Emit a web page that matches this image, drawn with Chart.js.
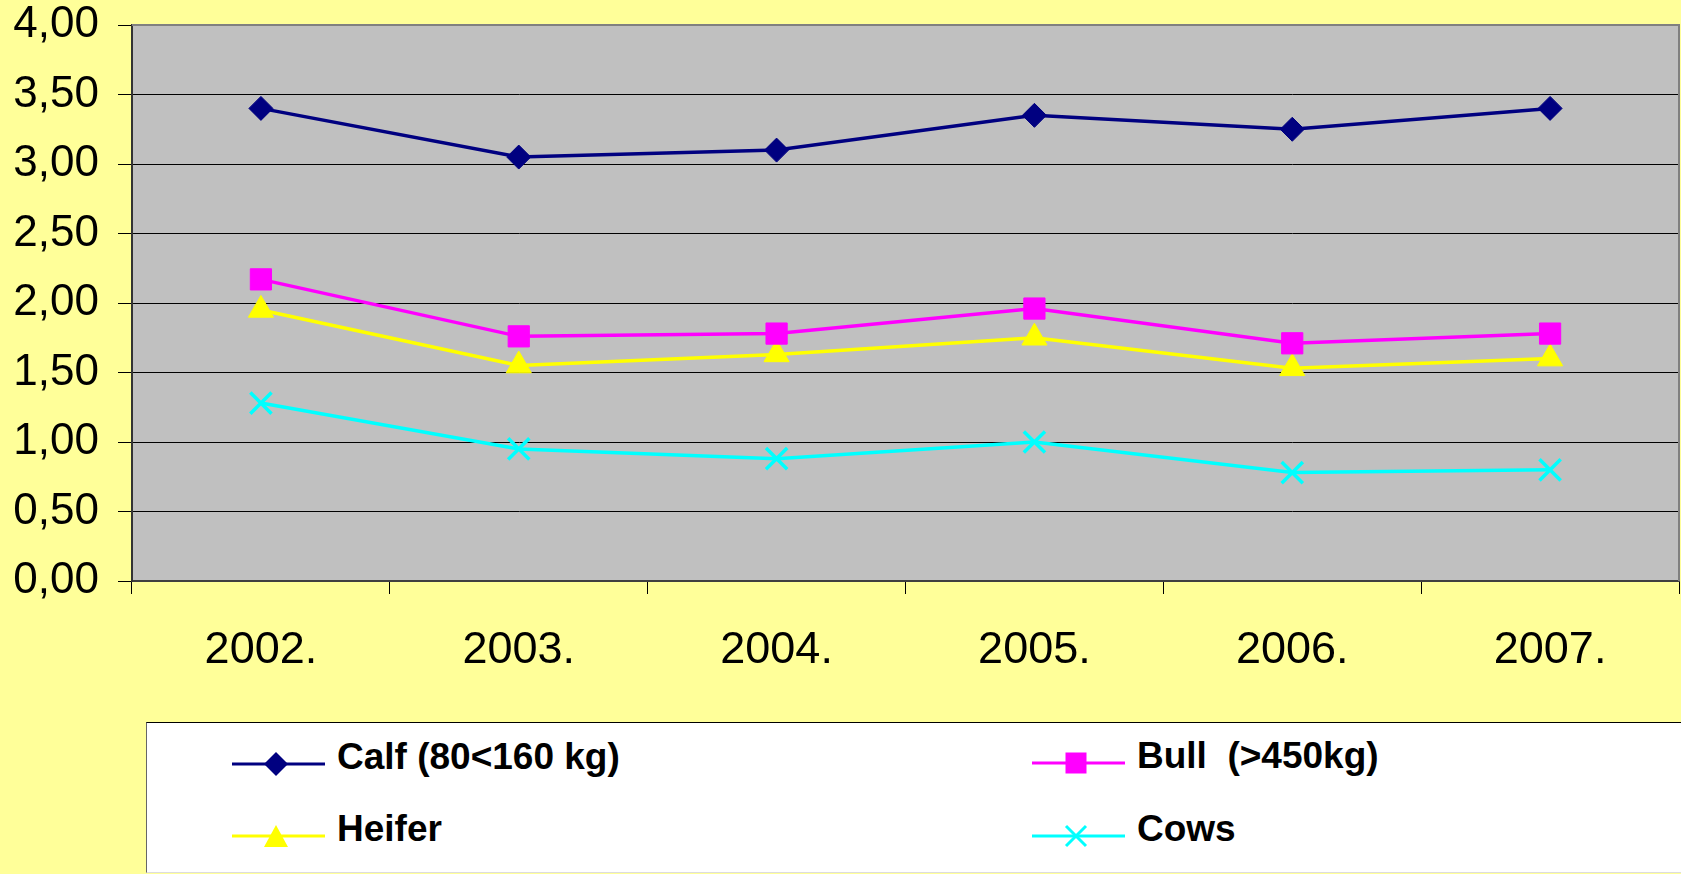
<!DOCTYPE html>
<html>
<head>
<meta charset="utf-8">
<script src="https://cdn.jsdelivr.net/npm/chart.js@4/dist/chart.umd.min.js"></script>
<style>
  html, body { margin: 0; padding: 0; background: #FFFF99; }
  #wrap { position: absolute; left: 0; top: 0; width: 1681px; height: 874px; overflow: hidden; }
  #chartBox { position: absolute; left: 0; top: 0; width: 1681px; height: 874px; }
  #legend {
    position: absolute; left: 146px; top: 722px; width: 1540px; height: 151px;
    background: #fff; border-top: 1px solid #000; border-left: 1px solid #666;
    border-bottom: 1px solid #ddd; box-sizing: border-box;
  }
  .lg-mark { position: absolute; }
  .lg-text {
    position: absolute; font-family: "Liberation Sans", Arial, sans-serif;
    font-weight: bold; font-size: 37px; line-height: 37px; color: #000; white-space: pre;
  }
</style>
</head>
<body>
<div id="wrap">
  <div id="chartBox"><canvas id="lineChart"></canvas></div>
  <div id="legend"></div>
</div>
<script>
const years = ["2002.", "2003.", "2004.", "2005.", "2006.", "2007."];
const seriesNames = ["Calf (80<160 kg)", "Bull  (>450kg)", "Heifer", "Cows"];
const calf = [3.40, 3.05, 3.10, 3.35, 3.25, 3.40];
const bull = [2.17, 1.76, 1.78, 1.96, 1.71, 1.78];
const heifer = [1.95, 1.55, 1.63, 1.75, 1.53, 1.60];
const cows = [1.28, 0.95, 0.88, 1.00, 0.78, 0.80];

const colors = ["#000080", "#FF00FF", "#FFFF00", "#00FFFF"];
const markers = ["rectRot", "rect", "triangle", "crossRot"];
const markerRadius = [12, 15, 14.5, 15];

// plot area fill and the grey frame on top / right
const plotFrame = {
  id: "plotFrame",
  beforeDraw(chart) {
    const { ctx, chartArea: a } = chart;
    ctx.save();
    ctx.fillStyle = "#C0C0C0";
    ctx.fillRect(a.left, a.top, a.right - a.left, a.bottom - a.top);
    ctx.restore();
  },
  afterDraw(chart) {
    const { ctx, chartArea: a } = chart;
    ctx.save();
    ctx.strokeStyle = "#808080";
    ctx.lineWidth = 2;
    ctx.beginPath();
    ctx.moveTo(a.left, a.top);
    ctx.lineTo(a.right, a.top);
    ctx.lineTo(a.right, a.bottom);
    ctx.stroke();
    ctx.restore();
  }
};

const allSeries = [calf, bull, heifer, cows];

new Chart(document.getElementById("lineChart"), {
  type: "line",
  data: {
    labels: years,
    datasets: allSeries.map((vals, i) => ({
      label: seriesNames[i],
      data: vals,
      borderColor: colors[i],
      backgroundColor: colors[i],
      borderWidth: 3.5,
      tension: 0,
      pointStyle: markers[i],
      pointRadius: markerRadius[i],
      pointBackgroundColor: colors[i],
      pointBorderColor: colors[i],
      pointBorderWidth: markers[i] === "crossRot" ? 3.5 : 1,
      clip: false
    }))
  },
  options: {
    responsive: true,
    maintainAspectRatio: false,
    animation: false,
    layout: { autoPadding: false, padding: { top: 25, right: 2, bottom: 0, left: 0 } },
    plugins: {
      legend: { display: false },
      tooltip: { enabled: false }
    },
    scales: {
      x: {
        offset: true,
        afterFit(scale) {
          scale.height = 293;
          scale.paddingLeft = 0;
          scale.paddingRight = 0;
        },
        grid: {
          offset: true,
          drawOnChartArea: false,
          drawTicks: true,
          tickLength: 13,
          color: "#000"
        },
        border: { display: true, color: "#404040", width: 2 },
        ticks: {
          color: "#000",
          padding: 30,
          maxRotation: 0,
          font: { family: "'Liberation Sans', Arial, sans-serif", size: 45 }
        }
      },
      y: {
        min: 0,
        max: 4,
        afterFit(scale) {
          scale.width = 132;
          scale.paddingTop = 0;
          scale.paddingBottom = 0;
        },
        grid: {
          color: "#000",
          lineWidth: 1,
          drawTicks: true,
          tickLength: 14
        },
        border: { display: true, color: "#333", width: 2 },
        ticks: {
          stepSize: 0.5,
          color: "#000",
          padding: 19,
          font: { family: "'Liberation Sans', Arial, sans-serif", size: 44, lineHeight: 1 },
          callback: (v) => Number(v).toFixed(2).replace(".", ",")
        }
      }
    }
  },
  plugins: [plotFrame]
});

// legend, laid out like the original two-column box
const legendSlots = [[232, 764], [1032, 763], [232, 836], [1032, 836]];
const legendBox = document.getElementById("legend");
const boxLeft = 146, boxTop = 722;

function markerSvg(style, color) {
  const cx = 44, cy = 15;
  let shape = "";
  if (style === "rectRot") {
    shape = `<polygon points="${cx},${cy - 12} ${cx + 12},${cy} ${cx},${cy + 12} ${cx - 12},${cy}" fill="${color}"/>`;
  } else if (style === "rect") {
    shape = `<rect x="${cx - 10.5}" y="${cy - 10.5}" width="21" height="21" fill="${color}"/>`;
  } else if (style === "triangle") {
    shape = `<polygon points="${cx},${cy - 11} ${cx + 12},${cy + 11} ${cx - 12},${cy + 11}" fill="${color}"/>`;
  } else {
    shape = `<path d="M${cx - 10},${cy - 10} L${cx + 10},${cy + 10} M${cx + 10},${cy - 10} L${cx - 10},${cy + 10}" stroke="${color}" stroke-width="3"/>`;
  }
  return `<svg width="93" height="30" viewBox="0 0 93 30">
    <line x1="0" y1="${cy}" x2="93" y2="${cy}" stroke="${color}" stroke-width="3"/>${shape}</svg>`;
}

seriesNames.forEach((name, i) => {
  const [x, y] = legendSlots[i];
  const mark = document.createElement("div");
  mark.className = "lg-mark";
  mark.style.left = (x - boxLeft - 1) + "px";
  mark.style.top = (y - 15 - boxTop - 1) + "px";
  mark.innerHTML = markerSvg(markers[i], colors[i]);
  legendBox.appendChild(mark);

  const txt = document.createElement("div");
  txt.className = "lg-text";
  txt.textContent = name;
  txt.style.left = (x + 105 - boxLeft - 1) + "px";
  txt.style.top = (y - 26 - boxTop - 1) + "px";
  legendBox.appendChild(txt);
});
</script>
</body>
</html>
